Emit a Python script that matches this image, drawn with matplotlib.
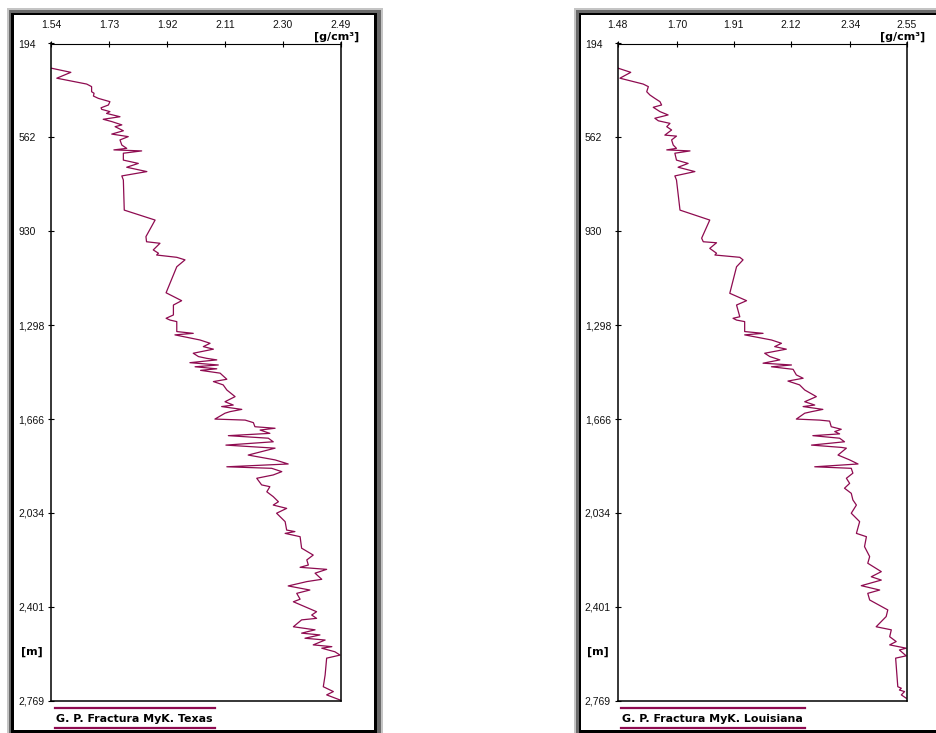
import matplotlib
matplotlib.use("Agg")
import matplotlib.pyplot as plt
from matplotlib.patches import Rectangle
from matplotlib.lines import Line2D
from matplotlib.ticker import FuncFormatter

# depth [m] / density [g/cm3]
depth_tx = [291, 307, 330, 353, 363, 383, 389, 400, 409, 422, 435, 446, 452, 461, 468, 481, 491, 500, 513, 520,
            536, 549, 559, 572, 592, 605, 611, 615, 624, 651, 664, 679, 696, 713, 729, 847, 886, 951, 971, 977,
            1003, 1016, 1023, 1032, 1042, 1069, 1171, 1202, 1219, 1258, 1271, 1278, 1284, 1323, 1330, 1336, 1356,
            1369, 1382, 1392, 1408, 1421, 1428, 1434, 1445, 1454, 1461, 1469, 1475, 1486, 1510, 1519, 1532, 1552,
            1578, 1598, 1611, 1617, 1628, 1637, 1643, 1666, 1670, 1680, 1696, 1702, 1709, 1722, 1731, 1741, 1755,
            1768, 1780, 1807, 1826, 1842, 1853, 1859, 1872, 1885, 1898, 1924, 1931, 1951, 1970, 1990, 2003, 2016,
            2035, 2068, 2101, 2107, 2114, 2127, 2172, 2199, 2218, 2238, 2247, 2255, 2270, 2294, 2303, 2320, 2336,
            2349, 2372, 2382, 2421, 2434, 2447, 2453, 2480, 2492, 2505, 2512, 2525, 2532, 2551, 2558, 2564, 2578,
            2591, 2603, 2669, 2715, 2734, 2747, 2767]
dens_tx = [1.542, 1.605, 1.559, 1.657, 1.673, 1.673, 1.681, 1.679, 1.695, 1.733, 1.728, 1.704, 1.706, 1.733, 1.722,
           1.766, 1.711, 1.739, 1.772, 1.750, 1.777, 1.739, 1.793, 1.766, 1.772, 1.788, 1.746, 1.837, 1.777, 1.777,
           1.826, 1.788, 1.854, 1.772, 1.777, 1.780, 1.881, 1.851, 1.853, 1.897, 1.875, 1.892, 1.886, 1.952, 1.979,
           1.952, 1.917, 1.968, 1.941, 1.941, 1.917, 1.930, 1.952, 1.952, 2.006, 1.946, 2.028, 2.061, 2.039, 2.072,
           2.006, 2.023, 2.050, 2.083, 1.995, 2.088, 2.012, 2.083, 2.030, 2.094, 2.116, 2.072, 2.104, 2.116, 2.143,
           2.110, 2.137, 2.099, 2.165, 2.126, 2.110, 2.077, 2.176, 2.203, 2.208, 2.274, 2.225, 2.257, 2.121, 2.252,
           2.268, 2.113, 2.274, 2.186, 2.274, 2.317, 2.116, 2.263, 2.296, 2.268, 2.214, 2.230, 2.257, 2.247, 2.268,
           2.285, 2.268, 2.312, 2.279, 2.307, 2.312, 2.339, 2.307, 2.356, 2.361, 2.399, 2.378, 2.383, 2.356, 2.443,
           2.405, 2.427, 2.378, 2.317, 2.388, 2.345, 2.356, 2.334, 2.410, 2.394, 2.410, 2.361, 2.334, 2.405, 2.361,
           2.421, 2.372, 2.438, 2.399, 2.460, 2.427, 2.470, 2.487, 2.443, 2.438, 2.432, 2.465, 2.443, 2.487]

depth_la = [291, 307, 330, 353, 363, 383, 396, 409, 422, 435, 444, 461, 474, 487, 497, 507, 520, 533, 553, 557,
            572, 592, 605, 611, 615, 624, 651, 664, 679, 696, 713, 729, 847, 886, 957, 971, 975, 997, 1016, 1023,
            1032, 1042, 1069, 1173, 1202, 1219, 1265, 1271, 1278, 1284, 1323, 1330, 1336, 1356, 1369, 1382, 1392,
            1408, 1421, 1434, 1447, 1454, 1461, 1471, 1493, 1506, 1517, 1532, 1552, 1578, 1598, 1611, 1617, 1628,
            1637, 1643, 1666, 1670, 1674, 1696, 1706, 1715, 1724, 1731, 1741, 1755, 1768, 1777, 1780, 1807, 1826,
            1842, 1853, 1859, 1878, 1898, 1918, 1937, 1957, 1983, 2003, 2035, 2068, 2114, 2127, 2166, 2205, 2231,
            2264, 2284, 2297, 2319, 2336, 2349, 2375, 2414, 2440, 2480, 2492, 2519, 2538, 2551, 2564, 2571, 2594,
            2603, 2715, 2721, 2728, 2734, 2747, 2760]
dens_la = [1.483, 1.529, 1.489, 1.575, 1.594, 1.588, 1.600, 1.618, 1.637, 1.643, 1.612, 1.637, 1.667, 1.618, 1.631,
           1.674, 1.662, 1.680, 1.655, 1.698, 1.680, 1.686, 1.698, 1.662, 1.748, 1.692, 1.698, 1.741, 1.704, 1.766,
           1.692, 1.698, 1.711, 1.821, 1.791, 1.797, 1.846, 1.821, 1.846, 1.840, 1.932, 1.944, 1.920, 1.895, 1.957,
           1.920, 1.932, 1.907, 1.920, 1.950, 1.950, 2.018, 1.950, 2.049, 2.086, 2.061, 2.104, 2.024, 2.043, 2.080,
           2.018, 2.123, 2.049, 2.129, 2.141, 2.166, 2.110, 2.153, 2.172, 2.215, 2.172, 2.209, 2.166, 2.239, 2.197,
           2.172, 2.141, 2.227, 2.264, 2.270, 2.307, 2.283, 2.301, 2.202, 2.301, 2.319, 2.197, 2.307, 2.326, 2.295,
           2.338, 2.369, 2.209, 2.344, 2.350, 2.326, 2.338, 2.319, 2.344, 2.350, 2.363, 2.344, 2.375, 2.363, 2.400,
           2.393, 2.412, 2.405, 2.455, 2.418, 2.455, 2.381, 2.449, 2.405, 2.412, 2.479, 2.473, 2.436, 2.492, 2.486,
           2.510, 2.486, 2.547, 2.522, 2.547, 2.508, 2.516, 2.529, 2.522, 2.541, 2.529, 2.547]

depth_ticks = [194, 562, 930, 1298, 1666, 2034, 2401, 2769]
dens_ticks_tx = [1.54, 1.73, 1.92, 2.11, 2.30, 2.49]
dens_ticks_la = [1.48, 1.70, 1.91, 2.12, 2.34, 2.55]
titles = ["G. P. Fractura MyK. Texas", "G. P. Fractura MyK. Louisiana"]

W, H = 937, 733
LINE = "#8e0b50"
FONT = "Liberation Sans"
BOLD = "DejaVu Sans"

fig = plt.figure(figsize=(W / 100, H / 100), dpi=100)
fig.patch.set_facecolor("white")


def px_rect(x0, y0, x1, y1, color, z):
    # pixel box (top-left origin) -> figure fraction rectangle
    fig.add_artist(Rectangle((x0 / W, 1 - y1 / H), (x1 - x0) / W, (y1 - y0) / H,
                             transform=fig.transFigure, facecolor=color,
                             edgecolor="none", zorder=z))


def frame(x0, y0, x1, y1):
    px_rect(x0, y0, x1, y1 + 5, "#c4c4c4", -10)
    px_rect(x0 + 2, y0 + 2, x1 - 2, y1 + 5, "#6a6a6a", -9)
    px_rect(x0 + 4.5, y0 + 4.5, x1 - 6, y1 + 5, "black", -8)
    px_rect(x0 + 7, y0 + 7, x1 - 8.5, y1 - 3, "white", -7)


frame(7, 8, 383, 733)
frame(574, 8, 960, 733)


def panel(left_px, right_px, dens, depth, xticks, title):
    ax = fig.add_axes([left_px / W, 1 - 700.5 / H, (right_px - left_px) / W, 657 / H])
    ax.plot(dens, depth, color=LINE, lw=0.9)
    ax.set_xlim(xticks[0], xticks[-1])
    ax.set_ylim(depth_ticks[-1], depth_ticks[0])
    ax.xaxis.tick_top()
    ax.set_xticks(xticks)
    ax.set_xticklabels(["%.2f" % v for v in xticks])
    ax.set_yticks(depth_ticks)
    ax.yaxis.set_major_formatter(FuncFormatter(lambda v, p: "{:,}".format(int(v))))
    ax.tick_params(axis="x", direction="inout", length=4, width=0.8, pad=7.5,
                   labelsize=7.5, labelcolor="#111111")
    ax.tick_params(axis="y", direction="inout", length=5, width=0.8, pad=21,
                   labelsize=7.5, labelcolor="#111111")
    for lab in ax.get_yticklabels():
        lab.set_horizontalalignment("left")
        lab.set_fontfamily(FONT)
    for lab in ax.get_xticklabels():
        lab.set_fontfamily(FONT)
    for s in ax.spines.values():
        s.set_linewidth(1.1)
        s.set_color("black")
    ax.spines["top"].set_linewidth(0.8)

    fig.text((right_px + 18) / W, 1 - 37 / H, "[g/cm\u00b3]", ha="right", va="center",
             fontsize=8, fontweight="bold", family=BOLD)
    fig.text((left_px - 30) / W, 1 - 652 / H, "[m]", ha="left", va="center",
             fontsize=8, fontweight="bold", family=BOLD)

    t = fig.text((left_px + 5) / W, 1 - 718.5 / H, title, ha="left", va="center",
                 fontsize=7.9, fontweight="bold", family=BOLD)
    fig.canvas.draw()
    bb = t.get_window_extent()
    x0 = (left_px + 4) / W
    x1 = (bb.x1 + 2) / W
    for yy in (707.7, 727.5):
        fig.add_artist(Line2D([x0, x1], [1 - yy / H, 1 - yy / H], color=LINE, lw=1.6,
                              transform=fig.transFigure))
    return ax


panel(51, 341, dens_tx, depth_tx, dens_ticks_tx, titles[0])
panel(617.5, 907, dens_la, depth_la, dens_ticks_la, titles[1])

fig.savefig("out.png", dpi=100)
